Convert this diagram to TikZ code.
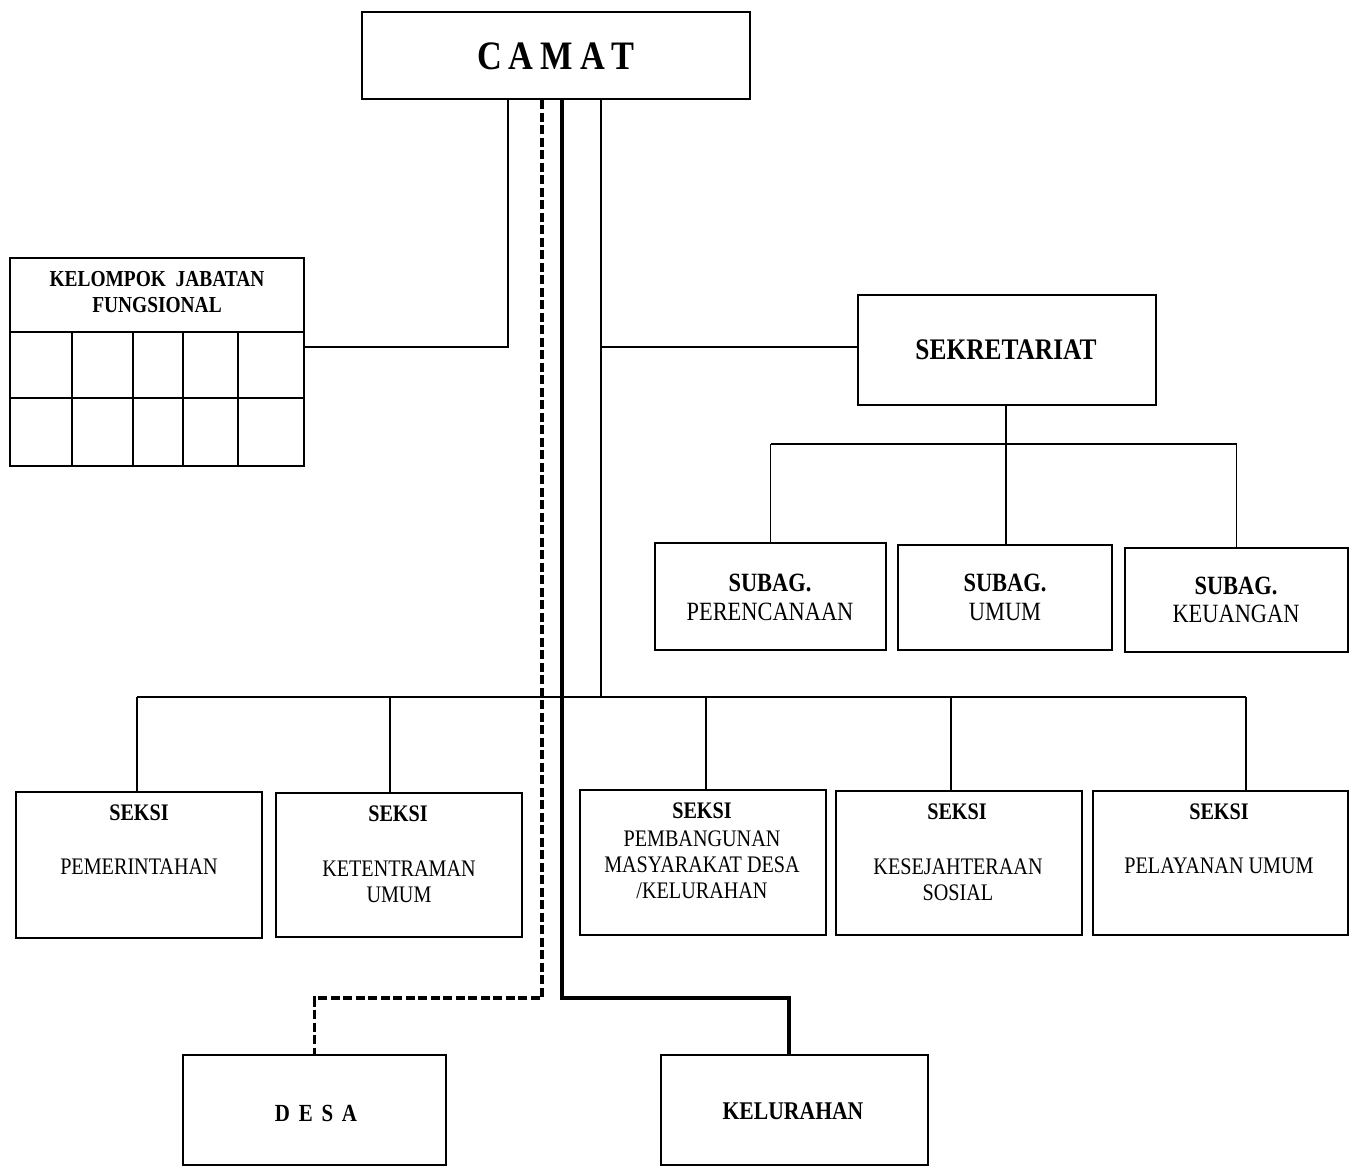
\documentclass[tikz,border=0pt]{standalone}
\usepackage{fontspec}
\setmainfont{Liberation Serif}[FakeStretch=0.85]
\begin{document}
\begin{tikzpicture}[x=0.02cm,y=-0.02cm,
  box/.style={draw, line width=1.6pt, inner sep=0pt},
  conn/.style={line width=1.1pt},
  thickconn/.style={line width=2pt},
  dashconn/.style={line width=2pt, dash pattern=on 0.18cm off 0.07cm},
  gridline/.style={line width=1.4pt},
  lblb/.style={inner sep=0pt, align=center, font=\bfseries\fontsize{13.5}{14.7}\selectfont},
  lblr/.style={inner sep=0pt, align=center, font=\fontsize{13.5}{14.7}\selectfont},
  sublb/.style={inner sep=0pt, align=center, font=\bfseries\fontsize{15}{17}\selectfont},
  sublr/.style={inner sep=0pt, align=center, font=\fontsize{15}{17}\selectfont}]
\useasboundingbox (0,0) rectangle (1350,1167);

% boxes
\node[box, minimum width=7.76cm, minimum height=1.74cm] (camat) at (556,55.5) {};
\node[box, minimum width=5.88cm, minimum height=4.16cm] (kjf) at (157,362) {};
\node[box, minimum width=5.96cm, minimum height=2.2cm] (sek) at (1007,350) {};
\node[box, minimum width=4.62cm, minimum height=2.14cm] (sub1) at (770.5,596.5) {};
\node[box, minimum width=4.28cm, minimum height=2.1cm] (sub2) at (1005,597.5) {};
\node[box, minimum width=4.46cm, minimum height=2.08cm] (sub3) at (1236.5,600) {};
\node[box, minimum width=4.92cm, minimum height=2.92cm] (s1) at (139,865) {};
\node[box, minimum width=4.92cm, minimum height=2.88cm] (s2) at (399,865) {};
\node[box, minimum width=4.92cm, minimum height=2.9cm] (s3) at (703,862.5) {};
\node[box, minimum width=4.92cm, minimum height=2.88cm] (s4) at (959,863) {};
\node[box, minimum width=5.1cm, minimum height=2.88cm] (s5) at (1220.5,863) {};
\node[box, minimum width=5.26cm, minimum height=2.2cm] (desa) at (314.5,1110) {};
\node[box, minimum width=5.34cm, minimum height=2.2cm] (kel) at (794.5,1110) {};

% grid inside kelompok jabatan fungsional
\draw[gridline] (10,332) -- (304,332);
\draw[gridline] (10,398) -- (304,398);
\foreach \gx in {72,133,183,238} \draw[gridline] (\gx,332) -- (\gx,466);

% labels
\node[inner sep=0pt, font=\bfseries\fontsize{23}{27}\selectfont] (camatt) at (556,56.5) {C\hspace{4pt}A\hspace{4pt}M\hspace{4pt}A\hspace{4pt}T};
\node[inner sep=0pt, font=\bfseries\fontsize{13}{15}\selectfont] (kjft1) at (157,279) {KELOMPOK\ \ JABATAN};
\node[inner sep=0pt, font=\bfseries\fontsize{13}{15}\selectfont] (kjft2) at (157,305.5) {FUNGSIONAL};
\node[inner sep=0pt, font=\bfseries\fontsize{17}{20}\selectfont] (sekt) at (1006,350) {SEKRETARIAT};
\node[sublb] (sub1a) at (770,583) {SUBAG.};
\node[sublr] (sub1b) at (770,612) {PERENCANAAN};
\node[sublb] (sub2a) at (1005,583) {SUBAG.};
\node[sublr] (sub2b) at (1005,612) {UMUM};
\node[sublb] (sub3a) at (1236,586) {SUBAG.};
\node[sublr] (sub3b) at (1236,614) {KEUANGAN};
\node[lblb] (s1a) at (139,813) {SEKSI};
\node[lblr] (s1b) at (139,867) {PEMERINTAHAN};
\node[lblb] (s2a) at (398,814) {SEKSI};
\node[lblr] (s2b) at (399,882) {KETENTRAMAN\\UMUM};
\node[lblb] (s3a) at (702,811) {SEKSI};
\node[lblr] (s3b) at (702,865) {PEMBANGUNAN\\MASYARAKAT DESA\\/KELURAHAN};
\node[lblb] (s4a) at (957,812) {SEKSI};
\node[lblr] (s4b) at (958,880) {KESEJAHTERAAN\\SOSIAL};
\node[lblb] (s5a) at (1219,812) {SEKSI};
\node[lblr] (s5b) at (1219,866) {PELAYANAN UMUM};
\node[inner sep=0pt, font=\bfseries\fontsize{14}{16}\selectfont] (desat) at (316,1113) {D\hspace{5pt}E\hspace{5pt}S\hspace{5pt}A};
\node[inner sep=0pt, font=\bfseries\fontsize{14.5}{16}\selectfont] (kelt) at (793,1111) {KELURAHAN};

% connector coordinates
\coordinate (j1) at (508,347);
\coordinate (d1) at (542,998);
\coordinate (k1) at (562,998);
\coordinate (k2) at (789,998);
\coordinate (r1) at (601,347);
\coordinate (bus) at (601,697);
\coordinate (busl) at (137,697);
\coordinate (busr) at (1246,697);
\coordinate (sb) at (1006,444);
\coordinate (p2) at (390,697);
\coordinate (p3) at (706,697);
\coordinate (p4) at (951,697);

% camat to kelompok jabatan fungsional
\draw[conn] (kjf.east |- j1) -- (j1) -- (j1 |- camat.south);
% camat to desa (dashed)
\draw[dashconn] (d1 |- camat.south) -- (d1) -- (desa.north |- d1) -- (desa.north);
% camat to kelurahan
\draw[thickconn] (k1 |- camat.south) -- (k1) -- (k2) -- (k2 |- kel.north);
% camat to sekretariat and seksi bus
\draw[conn] (r1 |- camat.south) -- (bus);
\draw[conn] (r1) -- (r1 -| sek.west);
% sekretariat to subag
\draw[conn] (sb |- sek.south) -- (sb);
\draw[conn] (sub1.north |- sb) -- (sub3.north |- sb);
\draw[conn] (sub1.north |- sb) -- (sub1.north);
\draw[conn] (sb) -- (sb |- sub2.north);
\draw[conn] (sub3.north |- sb) -- (sub3.north);
% seksi bus
\draw[conn] (busl) -- (busr);
\draw[conn] (busl) -- (busl |- s1.north);
\draw[conn] (p2) -- (p2 |- s2.north);
\draw[conn] (p3) -- (p3 |- s3.north);
\draw[conn] (p4) -- (p4 |- s4.north);
\draw[conn] (busr) -- (busr |- s5.north);
\end{tikzpicture}
\end{document}
